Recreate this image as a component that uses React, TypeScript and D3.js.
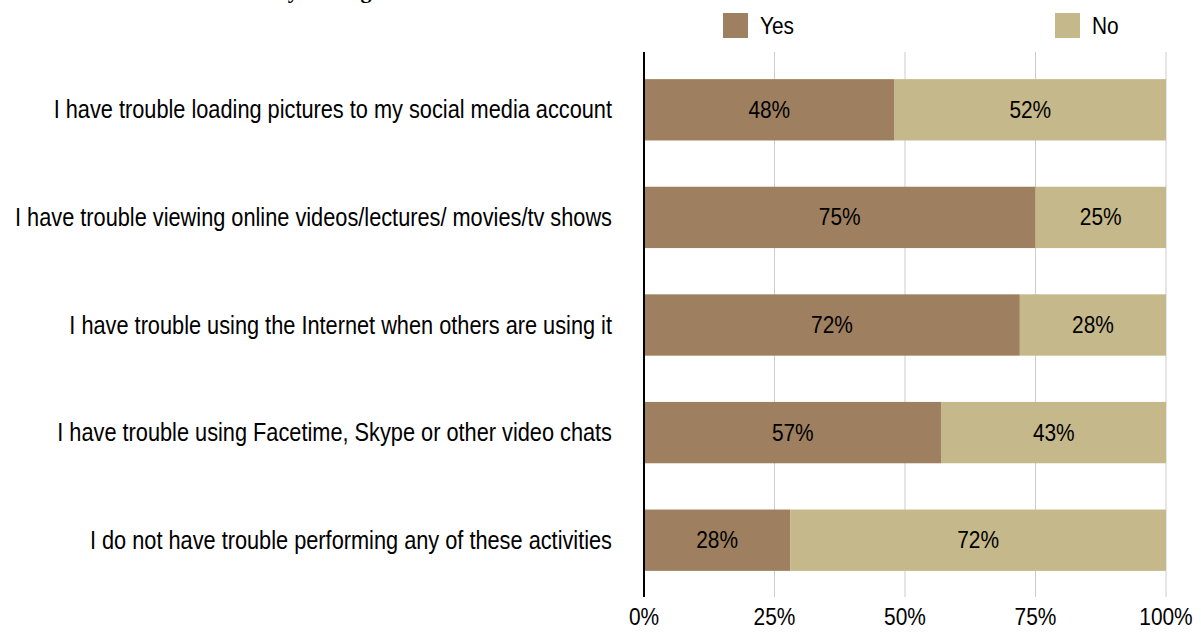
import React from "react";
import * as d3 from "d3";

const categories = [
  "I have trouble loading pictures to my social media account",
  "I have trouble viewing online videos/lectures/ movies/tv shows",
  "I have trouble using the Internet when others are using it",
  "I have trouble using Facetime, Skype or other video chats",
  "I do not have trouble performing any of these activities",
];
const yesValues = [48, 75, 72, 57, 28];
const noValues = [52, 25, 28, 43, 72];
const seriesNames = ["Yes", "No"];
const tickValues = [0, 25, 50, 75, 100];
const titleText = "Internet Activity Among Students";

const W = 1201;
const H = 635;
const colors = ["#9e7f5f", "#c5b88a"];
const font = "'Liberation Sans', Arial, sans-serif";
const SX = 0.87;

function NText(props: { x: number; y: number; size: number; anchor?: string; children: React.ReactNode }) {
  const { x, y, size, anchor = "start", children } = props;
  return (
    <text
      transform={`translate(${x},${y}) scale(${SX},1)`}
      textAnchor={anchor}
      dominantBaseline="central"
      fontFamily={font}
      fontSize={size}
      fill="#000"
    >
      {children}
    </text>
  );
}

export default function App() {
  const x = d3.scaleLinear().domain([0, 100]).range([644, 1166]);
  const y = d3.scaleBand<string>().domain(categories).range([56, 594]).paddingInner(0.43).paddingOuter(0.215);
  const plotTop = 52;
  const plotBottom = 597;
  const data = categories.map((c, i) => ({ c, yes: yesValues[i], no: noValues[i] }));
  return (
    <svg width={W} height={H} style={{ position: "absolute", left: 0, top: 0, background: "#fff" }}>
      <text x={143} y={-2} fontFamily="'Liberation Serif', 'Times New Roman', serif" fontWeight="bold" fontSize={22} fill="#000">
        {titleText}
      </text>
      {tickValues.slice(1).map((t) => (
        <line key={t} x1={x(t)} x2={x(t)} y1={plotTop} y2={plotBottom} stroke="#cccccc" strokeWidth={1} />
      ))}
      {data.map((d) => {
        const y0 = y(d.c) as number;
        const bh = y.bandwidth();
        return (
          <g key={d.c}>
            <rect x={x(0)} y={y0} width={x(d.yes) - x(0)} height={bh} fill={colors[0]} />
            <rect x={x(d.yes)} y={y0} width={x(d.yes + d.no) - x(d.yes)} height={bh} fill={colors[1]} />
            <NText x={(x(0) + x(d.yes)) / 2} y={y0 + bh / 2} size={24} anchor="middle">{d.yes}%</NText>
            <NText x={(x(d.yes) + x(d.yes + d.no)) / 2} y={y0 + bh / 2} size={24} anchor="middle">{d.no}%</NText>
            <NText x={612} y={y0 + bh / 2} size={25} anchor="end">{d.c}</NText>
          </g>
        );
      })}
      <line x1={x(0)} x2={x(0)} y1={plotTop} y2={plotBottom} stroke="#000" strokeWidth={2} />
      {tickValues.map((t) => (
        <NText key={t} x={x(t)} y={617} size={24} anchor="middle">{t}%</NText>
      ))}
      {seriesNames.map((s, i) => {
        const lx = i === 0 ? 723 : 1055;
        return (
          <g key={s}>
            <rect x={lx} y={13} width={25} height={25} fill={colors[i]} />
            <NText x={lx + 37} y={26} size={24}>{s}</NText>
          </g>
        );
      })}
    </svg>
  );
}
